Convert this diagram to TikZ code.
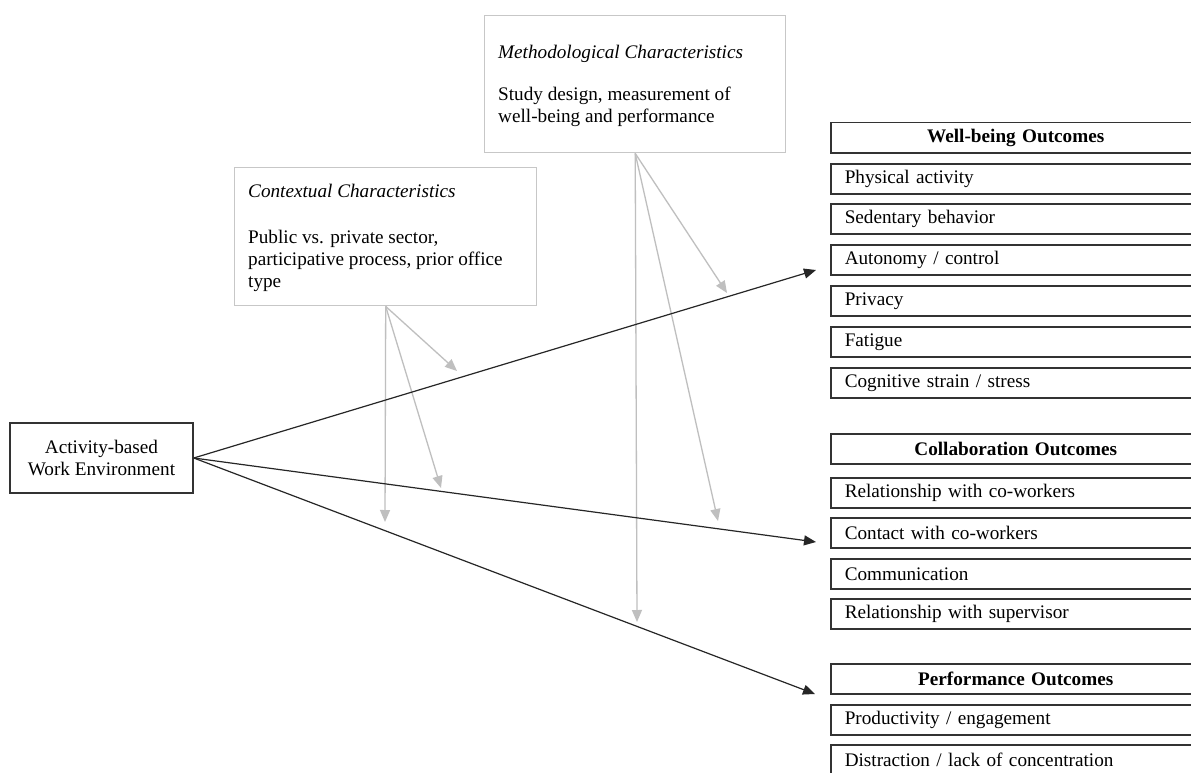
\documentclass[tikz,border=0pt]{standalone}
\usepackage{fontspec}
\setmainfont{Liberation Serif}
\usetikzlibrary{arrows.meta}
\begin{document}
\begin{tikzpicture}[x=1pt,y=-1pt,
  every node/.style={font=\fontsize{19.2}{22}\selectfont},
  factorbox/.style={draw=black!22, line width=1.4pt, inner sep=0pt, anchor=north west},
  factortext/.style={anchor=base west, inner sep=0pt, align=left},
  outbox/.style={draw=black!80, line width=1.5pt, minimum height=30pt, minimum width=370pt,
    anchor=north west, inner xsep=14pt, inner ysep=0pt, text width=342pt, align=left},
  outhead/.style={outbox, align=center, font=\fontsize{19.2}{22}\selectfont\bfseries},
  link/.style={-{Triangle[length=12pt,width=10pt]}, line width=1.2pt, black!85},
  moder/.style={-{Triangle[length=12pt,width=10pt]}, line width=1.3pt, black!25},
]
\useasboundingbox (0,0) rectangle (1191,773);
\fill[white] (0,0) rectangle (1191,773);

% moderator boxes (multi-line texts are placed at the baseline of their last line)
\node[factorbox, minimum width=301pt, minimum height=137pt] (meth) at (484,15) {};
\node[factortext, font=\fontsize{19.2}{22}\selectfont\itshape] (methtitle) at (498,59) {Methodological Characteristics};
\node[factortext] (methbody) at (498,123) {Study design, measurement of\\well-being and performance};

\node[factorbox, minimum width=302pt, minimum height=138pt] (ctx) at (234,167) {};
\node[factortext, font=\fontsize{19.2}{22}\selectfont\itshape] (ctxtitle) at (248,197) {Contextual Characteristics};
\node[factortext] (ctxbody) at (248,287) {Public vs. private sector,\\participative process, prior office\\type};

% predictor
\node[draw=black!80, line width=1.5pt, minimum width=183pt, minimum height=70pt, inner sep=0pt,
  align=center] (abw) at (101.5,458) {Activity-based\\Work Environment};

% well-being outcomes
\node[outhead] (wb) at (830,122) {Well-being Outcomes};
\node[outbox] (wb1) at (830,163) {Physical activity};
\node[outbox] (wb2) at (830,203) {Sedentary behavior};
\node[outbox] (wb3) at (830,244) {Autonomy / control};
\node[outbox] (wb4) at (830,285) {Privacy};
\node[outbox] (wb5) at (830,326) {Fatigue};
\node[outbox] (wb6) at (830,367) {Cognitive strain / stress};

% collaboration outcomes
\node[outhead] (col) at (830,433) {Collaboration Outcomes};
\node[outbox] (col1) at (830,477) {Relationship with co-workers};
\node[outbox] (col2) at (830,517) {Contact with co-workers};
\node[outbox] (col3) at (830,558) {Communication};
\node[outbox] (col4) at (830,598) {Relationship with supervisor};

% performance outcomes
\node[outhead] (perf) at (830,663) {Performance Outcomes};
\node[outbox] (perf1) at (830,704) {Productivity / engagement};
\node[outbox] (perf2) at (830,744) {Distraction / lack of concentration};

% arrow ends
\coordinate (tipwb) at (816,270);
\coordinate (tipcol) at (816,542);
\coordinate (tipperf) at (815,694);
\coordinate (c1) at (457,371);
\coordinate (c2) at (441,488);
\coordinate (c3) at (385,522);
\coordinate (m1) at (727,293);
\coordinate (m2) at (718,521);
\coordinate (m3) at (637,622);

% moderating paths
\draw[moder] (ctx.south) -- (c1);
\draw[moder] (ctx.south) -- (c2);
\draw[moder] (ctx.south) -- (c3);
\draw[moder] (meth.south) -- (m1);
\draw[moder] (meth.south) -- (m2);
\draw[moder] (meth.south) -- (m3);

% main paths
\draw[link] (abw.east) -- (tipwb);
\draw[link] (abw.east) -- (tipcol);
\draw[link] (abw.east) -- (tipperf);
\end{tikzpicture}
\end{document}
